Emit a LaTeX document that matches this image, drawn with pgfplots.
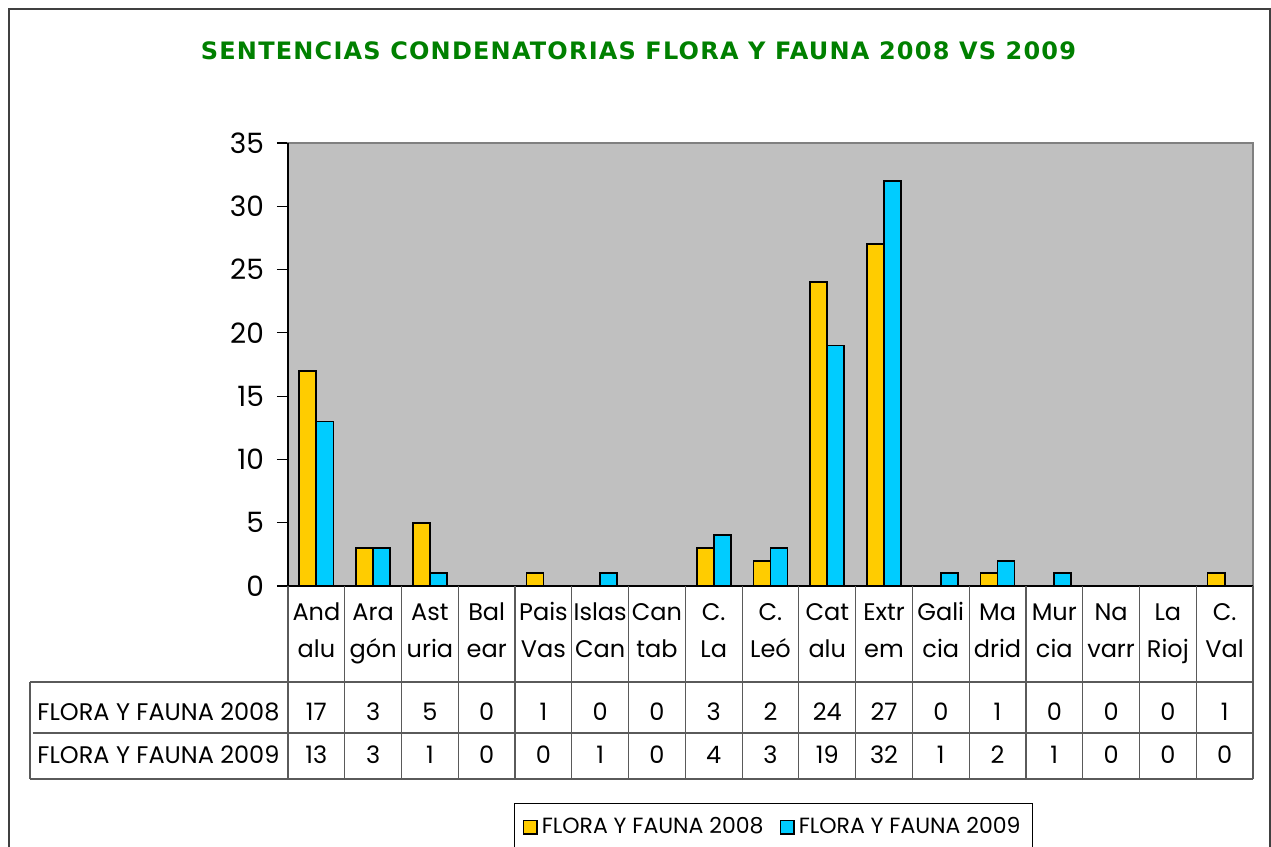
\documentclass[border=0pt]{standalone}
\usepackage{pgfplots}
\usepackage{pgfplotstable}
\pgfplotsset{compat=1.18}
\usepackage{fontspec}
\setmainfont{Poppins}
\newfontfamily\titlefont[LetterSpace=5]{DejaVu Sans Bold}
\definecolor{cy08}{RGB}{255,204,0}
\definecolor{cy09}{RGB}{0,204,255}
\definecolor{plotbg}{RGB}{192,192,192}
\definecolor{titlegreen}{RGB}{0,128,0}
\definecolor{gridc}{RGB}{90,90,90}

\pgfplotstableread{
x  la    lb    a   b
0  And   alu   17  13
1  Ara   gón   3   3
2  Ast   uria  5   1
3  Bal   ear   0   0
4  Pais  Vas   1   0
5  Islas Can   0   1
6  Can   tab   0   0
7  C.    La    3   4
8  C.    Leó   2   3
9  Cat   alu   24  19
10 Extr  em    27  32
11 Gali  cia   0   1
12 Ma    drid  1   2
13 Mur   cia   0   1
14 Na    varr  0   0
15 La    Rioj  0   0
16 C.    Val   1   0
}\data

\begin{document}
\begin{tikzpicture}
\useasboundingbox (0,0) rectangle (635.5pt,423.5pt);
\draw[line width=1pt, black!75] (4.5pt,-5pt) -- (4.5pt,419pt) -- (635pt,419pt) -- (635pt,-5pt);
\node[font=\titlefont\fontsize{12}{14}\selectfont, text=titlegreen] at (319.25pt,398pt) {SENTENCIAS CONDENATORIAS FLORA Y FAUNA 2008 VS 2009};
\begin{axis}[
  at={(144pt,130.5pt)}, anchor=south west,
  scale only axis, width=482.5pt, height=221.5pt,
  xmin=-0.5, xmax=16.5, ymin=0, ymax=35,
  clip=false,
  axis background/.style={fill=plotbg},
  axis line style={draw=black!50, line width=0.7pt},
  xtick=\empty,
  ytick={0,5,...,35},
  ytick pos=left,
  tick align=outside,
  major tick length=5.5pt,
  ytick style={black, line width=0.6pt},
  yticklabel style={font=\fontsize{14}{16}\selectfont, xshift=-3pt},
  /pgf/number format/assume math mode=true,
  legend style={at={(0.2342,-0.4898)}, anchor=north west, draw=black, line width=0.6pt,
    font=\fontsize{11}{13}\selectfont, inner xsep=4pt, inner ysep=5pt,
    /tikz/every even column/.append style={column sep=6pt}},
  legend columns=2,
  legend image code/.code={\draw[#1, line width=0.8pt] (0pt,-3.4pt) rectangle (6.8pt,3.4pt);},
]
\addplot[ybar, bar width=0.3, bar shift=-0.15, fill=cy08, draw=black, line width=0.9pt] table[x=x,y=a]{\data};
\addlegendentry{FLORA Y FAUNA 2008}
\addplot[ybar, bar width=0.3, bar shift=0.15, fill=cy09, draw=black, line width=0.9pt] table[x=x,y=b]{\data};
\addlegendentry{FLORA Y FAUNA 2009}
% left and bottom spines
\draw[black, line width=0.8pt] (axis cs:-0.5,35) -- (axis cs:-0.5,0) -- (axis cs:16.5,0);
% table grid
\pgfplotsinvokeforeach{0,...,17}{\draw[gridc, line width=0.6pt] (axis cs:#1-0.5,0) -- (axis cs:#1-0.5,-15.25);}
\draw[gridc, line width=0.6pt] (axis cs:-5.045,-7.58) -- (axis cs:16.5,-7.58);
\draw[gridc, line width=0.6pt] (axis cs:-5.0,-11.61) -- (axis cs:16.5,-11.61);
\draw[gridc, line width=0.6pt] (axis cs:-5.045,-15.25) -- (axis cs:16.5,-15.25);
\draw[gridc, line width=0.6pt] (axis cs:-5.045,-7.58) -- (axis cs:-5.045,-15.25);
% row labels
\node[anchor=base west, font=\fontsize{12}{14}\selectfont, inner sep=0pt] at (axis cs:-4.92,-10.59) {FLORA Y FAUNA 2008};
\node[anchor=base west, font=\fontsize{12}{14}\selectfont, inner sep=0pt] at (axis cs:-4.92,-14.06) {FLORA Y FAUNA 2009};
% table texts
\addplot[draw=none, forget plot, nodes near coords, point meta=explicit symbolic,
  every node near coord/.style={anchor=base, inner sep=0pt, font=\fontsize{12}{14}\selectfont}]
  table[x=x, y expr=-2.765, meta=la]{\data};
\addplot[draw=none, forget plot, nodes near coords, point meta=explicit symbolic,
  every node near coord/.style={anchor=base, inner sep=0pt, font=\fontsize{12}{14}\selectfont}]
  table[x=x, y expr=-5.61, meta=lb]{\data};
\addplot[draw=none, forget plot, nodes near coords, point meta=explicit symbolic,
  every node near coord/.style={anchor=base, inner sep=0pt, font=\fontsize{12}{14}\selectfont}]
  table[x=x, y expr=-10.59, meta=a]{\data};
\addplot[draw=none, forget plot, nodes near coords, point meta=explicit symbolic,
  every node near coord/.style={anchor=base, inner sep=0pt, font=\fontsize{12}{14}\selectfont}]
  table[x=x, y expr=-14.06, meta=b]{\data};
\end{axis}
\end{tikzpicture}
\end{document}
